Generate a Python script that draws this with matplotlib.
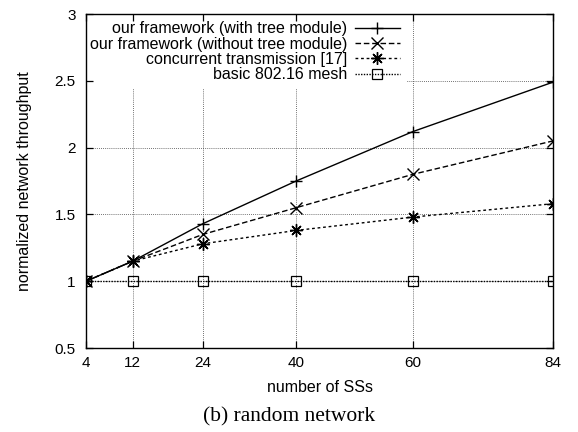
import matplotlib
matplotlib.use("Agg")
import matplotlib.pyplot as plt

x_vals = [4, 12, 24, 40, 60, 84]
with_tree = [1.0, 1.15, 1.43, 1.75, 2.12, 2.49]
without_tree = [1.0, 1.15, 1.35, 1.55, 1.80, 2.05]
concurrent = [1.0, 1.15, 1.28, 1.38, 1.48, 1.58]
basic = [1.0, 1.0, 1.0, 1.0, 1.0, 1.0]
labels = ["our framework (with tree module)",
          "our framework (without tree module)",
          "concurrent transmission [17]",
          "basic 802.16 mesh"]
y_ticks = [0.5, 1, 1.5, 2, 2.5, 3]
y_ticklabels = ["0.5", "1", "1.5", "2", "2.5", "3"]

plt.rcParams['font.family'] = ['Liberation Sans', 'DejaVu Sans']

fig = plt.figure(figsize=(5.78, 4.32), dpi=100)
ax = fig.add_axes([86/578, 1-348/432, (553-86)/578, (348-14)/432])

# grid drawn beneath the legend, ticks/spines above it
grid_kw = dict(color='#444444', ls=(0, (1, 1.5)), lw=0.6, zorder=0.3)
for xv in x_vals[1:-1]:
    ax.axvline(xv, **grid_kw)
for yv in y_ticks[1:-1]:
    ax.axhline(yv, **grid_kw)

ax.plot(x_vals, with_tree, color='black', lw=1.0, ls='-', marker='+', ms=9, mew=1.0, label=labels[0])
ax.plot(x_vals, without_tree, color='black', lw=1.0, ls=(0, (4, 2)), marker='x', ms=8, mew=1.0, label=labels[1])
ax.plot(x_vals, concurrent, color='black', lw=1.0, ls=(0, (2, 2)), marker=(8, 2, 0), ms=9, mew=1.0, label=labels[2])
ax.plot(x_vals, basic, color='black', lw=1.0, ls=(0, (1, 1)), marker='s', ms=7.5, mfc='none', mew=0.9, label=labels[3])

ax.set_xlim(4, 84)
ax.set_ylim(0.5, 3)
ax.set_xticks(x_vals)
ax.set_xticklabels([str(v) for v in x_vals])
ax.set_yticks(y_ticks)
ax.set_yticklabels(y_ticklabels)
ax.set_axisbelow(False)
ax.tick_params(direction='in', length=5, width=0.9, top=True, right=True, labelsize=11)
ax.tick_params(axis='y', pad=7.5)
ax.tick_params(axis='x', pad=6)
for s in ax.spines.values():
    s.set_linewidth(1.0)

ax.set_xlabel("number of SSs", fontsize=11.5, labelpad=7)
ax.set_ylabel("normalized network throughput", fontsize=11.5, labelpad=16)

leg = ax.legend(loc='upper right', bbox_to_anchor=(0.687, 1.0), markerfirst=False,
                frameon=True, fancybox=False, edgecolor='none', facecolor='white', framealpha=1,
                fontsize=11.5, handlelength=2.8, handletextpad=0.5, labelspacing=0.02,
                borderpad=0.45, borderaxespad=0.0)
leg.set_zorder(1)

fig.text(0.5, 1-417/432, "(b) random network", ha='center', va='center',
         fontsize=15.5, family=['Liberation Serif', 'DejaVu Serif'])

fig.savefig("out.png", dpi=100)
